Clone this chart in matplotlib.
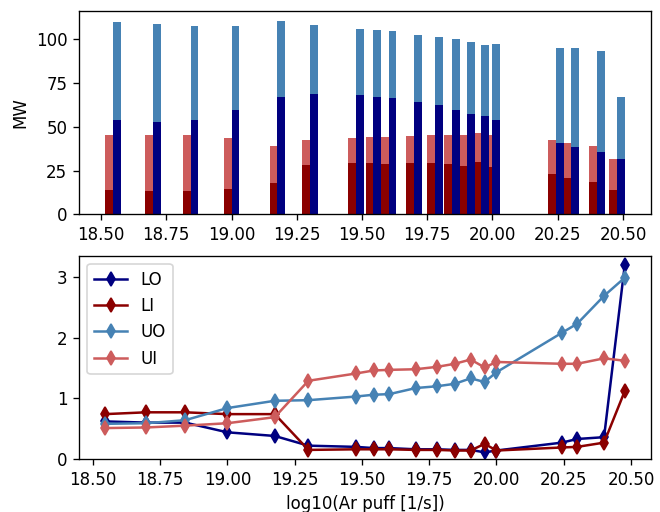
import matplotlib
matplotlib.use("Agg")
import matplotlib.pyplot as plt
from matplotlib.ticker import MultipleLocator
import numpy as np

# log10 of the Ar puff rate
puff = np.array([18.545, 18.698, 18.843, 19.0, 19.176, 19.301, 19.478, 19.544, 19.602,
                 19.70, 19.78, 19.845, 19.904, 19.956, 20.0, 20.243, 20.30, 20.40, 20.477])

# power [MW], lower segment and total for each bar
p_li = [13.8, 13.3, 13.3, 14.4, 17.8, 28.0, 29.2, 29.2, 28.6, 29.2, 29.2, 28.6, 27.5, 29.7,
        26.9, 22.9, 20.6, 18.4, 13.8]
p_inner = [45.1, 45.1, 45.1, 43.4, 38.8, 42.2, 43.4, 43.9, 43.9, 44.5, 45.1, 45.1, 45.1, 46.2,
           45.1, 42.2, 40.5, 38.8, 31.4]
p_lo = [53.6, 52.5, 53.6, 59.8, 66.7, 68.9, 67.8, 67.2, 66.1, 63.8, 62.1, 59.8, 57.0, 55.9,
        53.6, 40.5, 38.3, 35.4, 31.4]
p_outer = [109.8, 108.7, 107.6, 107.6, 110.4, 108.1, 105.9, 105.3, 104.7, 102.5, 101.3, 100.2,
           98.5, 96.8, 97.3, 95.1, 95.1, 93.4, 67.2]

# peak ratios per divertor leg
lo = [0.62, 0.60, 0.60, 0.44, 0.38, 0.22, 0.20, 0.18, 0.18, 0.16, 0.16, 0.15, 0.15, 0.11,
      0.14, 0.27, 0.33, 0.36, 3.20]
li = [0.74, 0.77, 0.77, 0.74, 0.74, 0.15, 0.16, 0.16, 0.16, 0.15, 0.15, 0.14, 0.14, 0.25,
      0.14, 0.19, 0.20, 0.27, 1.12]
uo = [0.58, 0.59, 0.64, 0.84, 0.96, 0.97, 1.03, 1.06, 1.07, 1.17, 1.20, 1.24, 1.33, 1.27,
      1.43, 2.08, 2.23, 2.69, 2.99]
ui = [0.51, 0.52, 0.55, 0.59, 0.69, 1.29, 1.41, 1.46, 1.47, 1.48, 1.52, 1.57, 1.64, 1.51,
      1.60, 1.57, 1.57, 1.66, 1.62]

w = 0.03
p_li = np.array(p_li)
p_lo = np.array(p_lo)
p_ui = np.array(p_inner) - p_li
p_uo = np.array(p_outer) - p_lo

fig, (ax1, ax2) = plt.subplots(2, 1, figsize=(5.5, 512 / 120), dpi=120)
fig.subplots_adjust(left=0.1197, right=0.986, top=0.9785, bottom=0.1035, hspace=0.202)

ax1.bar(puff - w / 2, p_li, width=w, color='darkred')
ax1.bar(puff - w / 2, p_ui, width=w, bottom=p_li, color='indianred')
ax1.bar(puff + w / 2, p_lo, width=w, color='navy')
ax1.bar(puff + w / 2, p_uo, width=w, bottom=p_lo, color='steelblue')
ax1.yaxis.set_major_locator(MultipleLocator(25))
ax1.set_ylabel('MW')

ax2.plot(puff, lo, 'd-', color='navy', label='LO')
ax2.plot(puff, li, 'd-', color='darkred', label='LI')
ax2.plot(puff, uo, 'd-', color='steelblue', label='UO')
ax2.plot(puff, ui, 'd-', color='indianred', label='UI')
ax2.set_ylim(bottom=0)
ax2.set_xlabel('log10(Ar puff [1/s])')
ax2.legend(loc='upper left')

fig.savefig('out.png', dpi=120)
